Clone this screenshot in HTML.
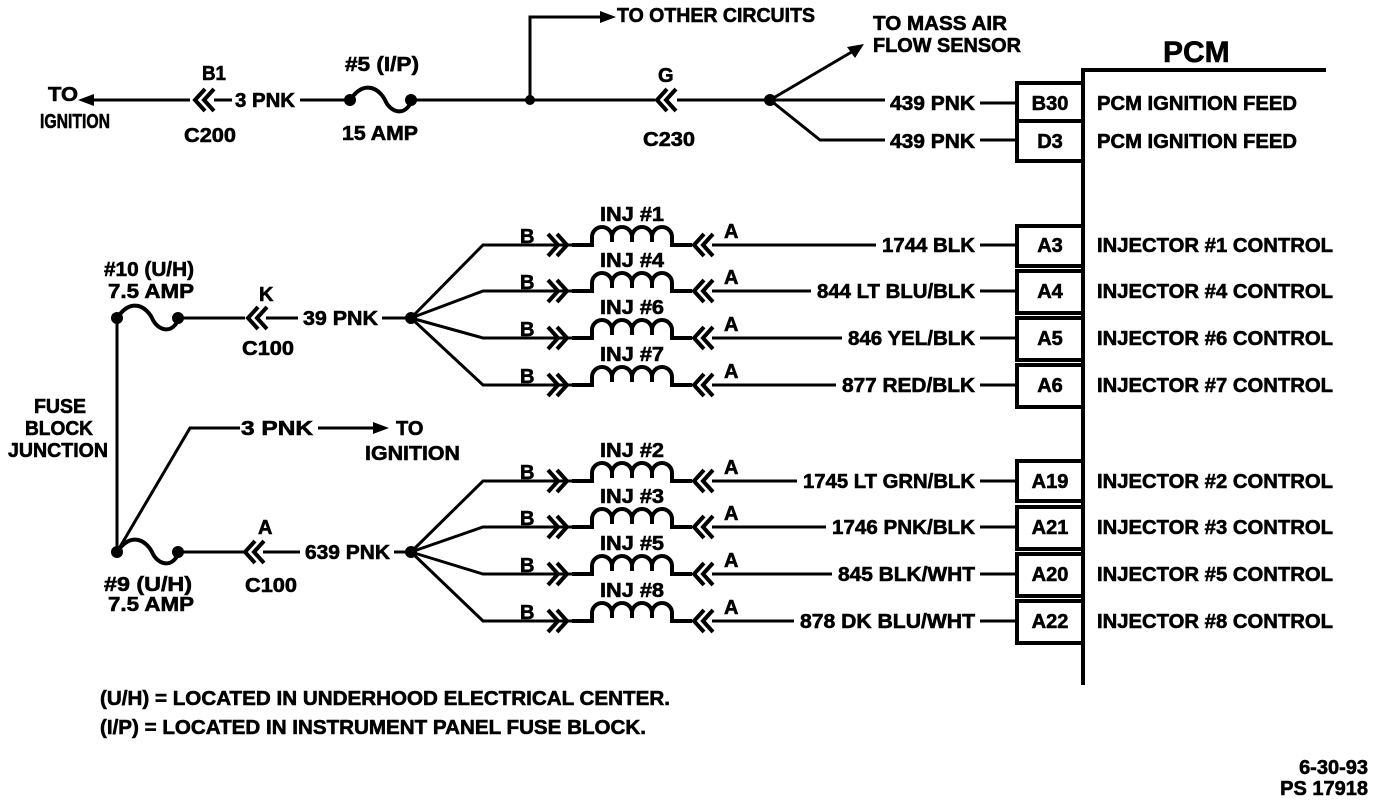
<!DOCTYPE html>
<html><head><meta charset="utf-8"><style>
html,body{margin:0;padding:0;background:#fff;}
svg{display:block;}
text{font-family:"Liberation Sans Narrow","Liberation Sans",sans-serif;font-weight:bold;font-size:20px;fill:#000;stroke:#000;stroke-width:0.6px;}
</style></head><body>
<svg width="1376" height="802" viewBox="0 0 1376 802" xmlns="http://www.w3.org/2000/svg">
<defs>
<path id="cr" d="M0,-11 L10,0 L0,11 M9,-11 L19,0 L9,11" fill="none" stroke="#000" stroke-width="4"/>
<path id="cl" d="M19,-11 L9,0 L19,11 M10,-11 L0,0 L10,11" fill="none" stroke="#000" stroke-width="4"/>
<path id="coil" d="M0,0 H20 V-8 A10,10 0 0 1 40,-8 V-3 M40,-8 A10,10 0 0 1 60,-8 V-3 M60,-8 A10,10 0 0 1 80,-8 V-3 M80,-8 A10,10 0 0 1 100,-8 V0 H120" fill="none" stroke="#000" stroke-width="4"/>
<path id="fuse" d="M0,0 C15,-22 30,-10 35,0 C40,12 55,18 62,0" fill="none" stroke="#000" stroke-width="4"/>
<polygon id="ah" points="0,0 -16,-6 -16,6" fill="#000"/>
</defs>
<g stroke="#000" stroke-width="3" fill="none">
<line x1="90" y1="100" x2="190" y2="100"/>
<line x1="214" y1="100" x2="232" y2="100"/>
<line x1="300" y1="100" x2="350" y2="100"/>
<line x1="410" y1="100" x2="655" y2="100"/>
<polyline points="530,100 530,17 605,17"/>
<line x1="677" y1="100" x2="885" y2="100"/>
<line x1="770" y1="100" x2="855" y2="50"/>
<polyline points="770,100 820,140 885,140"/>
<line x1="980" y1="103" x2="1017" y2="103"/>
<line x1="980" y1="140" x2="1017" y2="140"/>
<polyline points="1083,685 1083,70 1326,70" stroke-width="4"/>
<line x1="117" y1="318" x2="117" y2="552"/>
<line x1="178" y1="318" x2="245" y2="318"/>
<line x1="178" y1="552" x2="245" y2="552"/>
<line x1="266" y1="318" x2="298" y2="318"/>
<line x1="263" y1="552" x2="300" y2="552"/>
<line x1="382" y1="318" x2="410" y2="318"/>
<line x1="394" y1="552" x2="410" y2="552"/>
<polyline points="117,552 190,428 240,428"/>
<line x1="318" y1="428" x2="375" y2="428"/>
</g>
<use href="#ah" x="78" y="100" transform="rotate(180 78 100)"/>
<use href="#ah" x="616" y="17"/>
<use href="#ah" x="389" y="428"/>
<polygon points="864,44 847,47 855,58" fill="#000"/>
<use href="#cl" x="195" y="100"/>
<use href="#cl" x="657" y="100"/>
<use href="#cl" x="248" y="318"/>
<use href="#cl" x="245" y="552"/>
<use href="#fuse" x="350" y="100"/>
<use href="#fuse" x="117" y="318"/>
<use href="#fuse" x="117" y="552"/>
<g fill="#000">
<circle cx="350" cy="100" r="6"/><circle cx="411" cy="100" r="6"/>
<circle cx="530" cy="100" r="5"/><circle cx="770" cy="100" r="6"/>
<circle cx="117" cy="318" r="6"/><circle cx="178" cy="318" r="6"/>
<circle cx="117" cy="552" r="6"/><circle cx="178" cy="552" r="6"/>
<circle cx="411" cy="318" r="6"/><circle cx="411" cy="552" r="6"/>
</g>
<g lengthAdjust="spacingAndGlyphs">
<text x="48" y="101" textLength="30" lengthAdjust="spacingAndGlyphs">TO</text>
<text x="40" y="128" textLength="70" lengthAdjust="spacingAndGlyphs">IGNITION</text>
<text x="202" y="80" textLength="24" lengthAdjust="spacingAndGlyphs">B1</text>
<text x="184" y="142" textLength="52" lengthAdjust="spacingAndGlyphs">C200</text>
<text x="235" y="107" textLength="60" lengthAdjust="spacingAndGlyphs">3 PNK</text>
<text x="345" y="71" textLength="74" lengthAdjust="spacingAndGlyphs">#5 (I/P)</text>
<text x="342" y="140" textLength="76" lengthAdjust="spacingAndGlyphs">15 AMP</text>
<text x="617" y="22" textLength="198" lengthAdjust="spacingAndGlyphs">TO OTHER CIRCUITS</text>
<text x="658" y="82">G</text>
<text x="643" y="146" textLength="52" lengthAdjust="spacingAndGlyphs">C230</text>
<text x="873" y="30" textLength="134" lengthAdjust="spacingAndGlyphs">TO MASS AIR</text>
<text x="873" y="52" textLength="148" lengthAdjust="spacingAndGlyphs">FLOW SENSOR</text>
<text x="890" y="110" textLength="85" lengthAdjust="spacingAndGlyphs">439 PNK</text>
<text x="890" y="148" textLength="85" lengthAdjust="spacingAndGlyphs">439 PNK</text>
<text x="1163" y="62" style="font-size:30px">PCM</text>
<rect x="1017" y="83" width="66" height="38" fill="none" stroke="#000" stroke-width="4"/>
<rect x="1017" y="121" width="66" height="40" fill="none" stroke="#000" stroke-width="4"/>
<text x="1050" y="110" text-anchor="middle">B30</text>
<text x="1050" y="148" text-anchor="middle">D3</text>
<text x="1097" y="110" textLength="200" lengthAdjust="spacingAndGlyphs">PCM IGNITION FEED</text>
<text x="1097" y="148" textLength="200" lengthAdjust="spacingAndGlyphs">PCM IGNITION FEED</text>
<text x="104" y="276" textLength="90" lengthAdjust="spacingAndGlyphs">#10 (U/H)</text>
<text x="108" y="298" textLength="86" lengthAdjust="spacingAndGlyphs">7.5 AMP</text>
<text x="259" y="301">K</text>
<text x="242" y="355" textLength="52" lengthAdjust="spacingAndGlyphs">C100</text>
<text x="303" y="325" textLength="75" lengthAdjust="spacingAndGlyphs">39 PNK</text>
<text x="34" y="413" textLength="52" lengthAdjust="spacingAndGlyphs">FUSE</text>
<text x="25" y="435" textLength="68" lengthAdjust="spacingAndGlyphs">BLOCK</text>
<text x="8" y="457" textLength="100" lengthAdjust="spacingAndGlyphs">JUNCTION</text>
<text x="241" y="435" textLength="72" lengthAdjust="spacingAndGlyphs">3 PNK</text>
<text x="396" y="435">TO</text>
<text x="365" y="460" textLength="95" lengthAdjust="spacingAndGlyphs">IGNITION</text>
<text x="258" y="534">A</text>
<text x="245" y="592" textLength="52" lengthAdjust="spacingAndGlyphs">C100</text>
<text x="305" y="559" textLength="85" lengthAdjust="spacingAndGlyphs">639 PNK</text>
<text x="104" y="591" textLength="88" lengthAdjust="spacingAndGlyphs">#9 (U/H)</text>
<text x="108" y="611" textLength="86" lengthAdjust="spacingAndGlyphs">7.5 AMP</text>
</g>
<g stroke="#000" stroke-width="3" fill="none">
<polyline points="411,318 483,245 548,245"/>
<polyline points="411,318 483,291 548,291"/>
<polyline points="411,318 483,338 548,338"/>
<polyline points="411,318 483,385 548,385"/>
<polyline points="411,552 483,481 548,481"/>
<polyline points="411,552 483,527 548,527"/>
<polyline points="411,552 483,574 548,574"/>
<polyline points="411,552 483,621 548,621"/>
<line x1="712" y1="245" x2="876" y2="245"/>
<line x1="712" y1="291" x2="811" y2="291"/>
<line x1="712" y1="338" x2="842" y2="338"/>
<line x1="712" y1="385" x2="836" y2="385"/>
<line x1="712" y1="481" x2="797" y2="481"/>
<line x1="712" y1="527" x2="826" y2="527"/>
<line x1="712" y1="574" x2="832" y2="574"/>
<line x1="712" y1="621" x2="794" y2="621"/>
<line x1="980" y1="245" x2="1017" y2="245"/><line x1="980" y1="291" x2="1017" y2="291"/>
<line x1="980" y1="338" x2="1017" y2="338"/><line x1="980" y1="385" x2="1017" y2="385"/>
<line x1="980" y1="481" x2="1017" y2="481"/><line x1="980" y1="527" x2="1017" y2="527"/>
<line x1="980" y1="574" x2="1017" y2="574"/><line x1="980" y1="621" x2="1017" y2="621"/>
<line x1="548" y1="245" x2="572" y2="245"/><line x1="548" y1="291" x2="572" y2="291"/>
<line x1="548" y1="338" x2="572" y2="338"/><line x1="548" y1="385" x2="572" y2="385"/>
<line x1="548" y1="481" x2="572" y2="481"/><line x1="548" y1="527" x2="572" y2="527"/>
<line x1="548" y1="574" x2="572" y2="574"/><line x1="548" y1="621" x2="572" y2="621"/>
</g>
<use href="#cr" x="548" y="245"/><use href="#coil" x="572" y="245"/><use href="#cl" x="694" y="245"/>
<use href="#cr" x="548" y="291"/><use href="#coil" x="572" y="291"/><use href="#cl" x="694" y="291"/>
<use href="#cr" x="548" y="338"/><use href="#coil" x="572" y="338"/><use href="#cl" x="694" y="338"/>
<use href="#cr" x="548" y="385"/><use href="#coil" x="572" y="385"/><use href="#cl" x="694" y="385"/>
<use href="#cr" x="548" y="481"/><use href="#coil" x="572" y="481"/><use href="#cl" x="694" y="481"/>
<use href="#cr" x="548" y="527"/><use href="#coil" x="572" y="527"/><use href="#cl" x="694" y="527"/>
<use href="#cr" x="548" y="574"/><use href="#coil" x="572" y="574"/><use href="#cl" x="694" y="574"/>
<use href="#cr" x="548" y="621"/><use href="#coil" x="572" y="621"/><use href="#cl" x="694" y="621"/>
<g fill="none" stroke="#000" stroke-width="4">
<rect x="1017" y="226" width="66" height="40"/><rect x="1017" y="271" width="66" height="42"/>
<rect x="1017" y="318" width="66" height="42"/><rect x="1017" y="365" width="66" height="42"/>
<rect x="1017" y="461" width="66" height="40"/><rect x="1017" y="507" width="66" height="42"/>
<rect x="1017" y="554" width="66" height="42"/><rect x="1017" y="601" width="66" height="42"/>
</g>
<g>
<text x="520" y="243">B</text><text x="724" y="238">A</text><text x="600" y="221" textLength="64" lengthAdjust="spacingAndGlyphs">INJ #1</text>
<text x="520" y="289">B</text><text x="724" y="284">A</text><text x="600" y="267" textLength="64" lengthAdjust="spacingAndGlyphs">INJ #4</text>
<text x="520" y="336">B</text><text x="724" y="331">A</text><text x="600" y="314" textLength="64" lengthAdjust="spacingAndGlyphs">INJ #6</text>
<text x="520" y="383">B</text><text x="724" y="378">A</text><text x="600" y="361" textLength="64" lengthAdjust="spacingAndGlyphs">INJ #7</text>
<text x="520" y="479">B</text><text x="724" y="474">A</text><text x="600" y="457" textLength="64" lengthAdjust="spacingAndGlyphs">INJ #2</text>
<text x="520" y="525">B</text><text x="724" y="520">A</text><text x="600" y="503" textLength="64" lengthAdjust="spacingAndGlyphs">INJ #3</text>
<text x="520" y="572">B</text><text x="724" y="567">A</text><text x="600" y="550" textLength="64" lengthAdjust="spacingAndGlyphs">INJ #5</text>
<text x="520" y="619">B</text><text x="724" y="614">A</text><text x="600" y="597" textLength="64" lengthAdjust="spacingAndGlyphs">INJ #8</text>
</g>
<g>
<text x="882" y="252" textLength="93" lengthAdjust="spacingAndGlyphs">1744 BLK</text>
<text x="817" y="298" textLength="158" lengthAdjust="spacingAndGlyphs">844 LT BLU/BLK</text>
<text x="848" y="345" textLength="127" lengthAdjust="spacingAndGlyphs">846 YEL/BLK</text>
<text x="842" y="392" textLength="133" lengthAdjust="spacingAndGlyphs">877 RED/BLK</text>
<text x="803" y="488" textLength="172" lengthAdjust="spacingAndGlyphs">1745 LT GRN/BLK</text>
<text x="832" y="534" textLength="143" lengthAdjust="spacingAndGlyphs">1746 PNK/BLK</text>
<text x="838" y="581" textLength="137" lengthAdjust="spacingAndGlyphs">845 BLK/WHT</text>
<text x="800" y="628" textLength="175" lengthAdjust="spacingAndGlyphs">878 DK BLU/WHT</text>
</g>
<g text-anchor="middle">
<text x="1050" y="252">A3</text><text x="1050" y="298">A4</text>
<text x="1050" y="345">A5</text><text x="1050" y="392">A6</text>
<text x="1050" y="488">A19</text><text x="1050" y="534">A21</text>
<text x="1050" y="581">A20</text><text x="1050" y="628">A22</text>
</g>
<g>
<text x="1097" y="252" textLength="236" lengthAdjust="spacingAndGlyphs">INJECTOR #1 CONTROL</text>
<text x="1097" y="298" textLength="236" lengthAdjust="spacingAndGlyphs">INJECTOR #4 CONTROL</text>
<text x="1097" y="345" textLength="236" lengthAdjust="spacingAndGlyphs">INJECTOR #6 CONTROL</text>
<text x="1097" y="392" textLength="236" lengthAdjust="spacingAndGlyphs">INJECTOR #7 CONTROL</text>
<text x="1097" y="488" textLength="236" lengthAdjust="spacingAndGlyphs">INJECTOR #2 CONTROL</text>
<text x="1097" y="534" textLength="236" lengthAdjust="spacingAndGlyphs">INJECTOR #3 CONTROL</text>
<text x="1097" y="581" textLength="236" lengthAdjust="spacingAndGlyphs">INJECTOR #5 CONTROL</text>
<text x="1097" y="628" textLength="236" lengthAdjust="spacingAndGlyphs">INJECTOR #8 CONTROL</text>
</g>
<text x="100" y="705" textLength="570" lengthAdjust="spacingAndGlyphs">(U/H) = LOCATED IN UNDERHOOD ELECTRICAL CENTER.</text>
<text x="100" y="734" textLength="546" lengthAdjust="spacingAndGlyphs">(I/P) = LOCATED IN INSTRUMENT PANEL FUSE BLOCK.</text>
<text x="1368" y="774" text-anchor="end">6-30-93</text>
<text x="1368" y="795" text-anchor="end">PS 17918</text>
</svg>
</body></html>
